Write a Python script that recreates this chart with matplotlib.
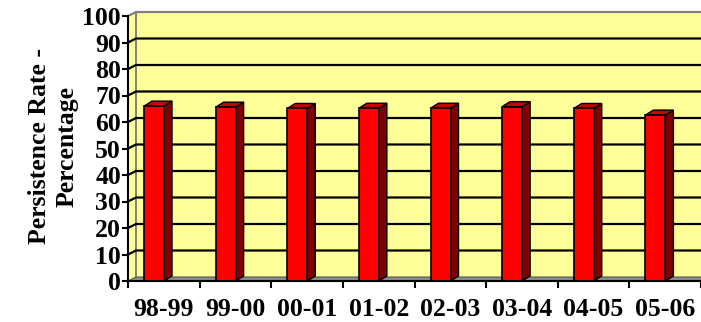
import matplotlib
matplotlib.use("Agg")
import matplotlib.pyplot as plt
from matplotlib.patches import Polygon

# Persistence rate by academic year
years = ["98-99", "99-00", "00-01", "01-02", "02-03", "03-04", "04-05", "05-06"]
rates = [66.0, 65.6, 65.1, 65.2, 65.2, 65.8, 65.1, 62.6]
y_ticks = [0, 10, 20, 30, 40, 50, 60, 70, 80, 90, 100]
y_title = "Persistence Rate -\nPercentage"

W, H, DPI = 701, 322, 100
plt.rcParams["font.family"] = ["Liberation Serif", "DejaVu Serif"]
plt.rcParams["font.weight"] = "bold"

fig = plt.figure(figsize=(W / DPI, H / DPI), dpi=DPI)
fig.patch.set_facecolor("white")

# front plane of the plot area, in pixels
left_px, right_px, top_px, bottom_px = 128, 701, 16, 281
ax = fig.add_axes([left_px / W, 1 - bottom_px / H,
                   (right_px - left_px) / W, (bottom_px - top_px) / H])
n = len(years)
ax.set_xlim(0, n)
ax.set_ylim(0, 100)
ax.set_facecolor("none")

px_per_cat = (right_px - left_px) / n
px_per_unit = (bottom_px - top_px) / 100.0

# depth offsets (pseudo-3D)
wdx = 8 / px_per_cat
wdy = 4 / px_per_unit
bdx = 8 / px_per_cat
bdy = 5 / px_per_unit

yellow = "#FFFF99"
gray = "#8C8C8C"

# back wall
ax.add_patch(Polygon([(wdx, wdy), (n + wdx, wdy), (n + wdx, 100 + wdy), (wdx, 100 + wdy)],
                     closed=True, facecolor=yellow, edgecolor="none", zorder=0, clip_on=False))
# side wall
ax.add_patch(Polygon([(0, 0), (wdx, wdy), (wdx, 100 + wdy), (0, 100)],
                     closed=True, facecolor=yellow, edgecolor="none", zorder=0, clip_on=False))
# wall edges
ax.plot([0, wdx, n + wdx], [100, 100 + wdy, 100 + wdy], color="#808080", lw=1.6,
        zorder=1, clip_on=False, solid_capstyle="butt")
ax.plot([wdx, wdx], [wdy, 100 + wdy], color="#808080", lw=1.4, zorder=1, clip_on=False)

# gridlines on the side and back walls
for v in y_ticks[1:-1]:
    ax.plot([0, wdx, n + wdx], [v, v + wdy, v + wdy], color="black", lw=1.6,
            zorder=1, clip_on=False, solid_capstyle="butt")

# floor
ax.add_patch(Polygon([(0, 0), (n, 0), (n + wdx, wdy), (wdx, wdy)],
                     closed=True, facecolor=gray, edgecolor="#555555", lw=0.8,
                     zorder=2, clip_on=False))

# bars
bar_w = 20 / px_per_cat
bar_off = 16 / px_per_cat
for i, v in enumerate(rates):
    xl = i + bar_off
    xr = xl + bar_w
    side = [(xr, 0), (xr + bdx, bdy), (xr + bdx, v + bdy), (xr, v)]
    top = [(xl, v), (xr, v), (xr + bdx, v + bdy), (xl + bdx, v + bdy)]
    ax.add_patch(Polygon(side, closed=True, facecolor="#800000", edgecolor="black",
                         lw=1.0, zorder=3, clip_on=False))
    ax.add_patch(Polygon(top, closed=True, facecolor="#C80000", edgecolor="black",
                         lw=1.0, zorder=3, clip_on=False))
    ax.add_patch(Polygon([(xl, 0), (xr, 0), (xr, v), (xl, v)], closed=True,
                         facecolor="#FF0000", edgecolor="black", lw=1.2,
                         zorder=4, clip_on=False))

# axes
for s in ["top", "right"]:
    ax.spines[s].set_visible(False)
for s in ["left", "bottom"]:
    ax.spines[s].set_color("black")
    ax.spines[s].set_linewidth(1.5)
    ax.spines[s].set_zorder(6)

ax.set_yticks(y_ticks)
ax.set_yticklabels([str(t) for t in y_ticks], fontsize=18.5, fontweight="bold")
ax.set_xticks(range(n + 1))
ax.set_xticklabels([])
ax.set_xticks([i + 0.5 for i in range(n)], minor=True)
ax.set_xticklabels(years, minor=True, fontsize=18.5, fontweight="bold")
ax.tick_params(axis="y", direction="out", length=4, width=1.5, pad=1)
ax.tick_params(axis="x", which="major", direction="out", length=5, width=1.5)
ax.tick_params(axis="x", which="minor", length=0, pad=12)

fig.text(53 / W, 1 - 146 / H, y_title, rotation=90, ha="center", va="center",
         multialignment="center", fontsize=18.5, fontweight="bold", linespacing=1.25)

fig.savefig("out.png", dpi=DPI)
